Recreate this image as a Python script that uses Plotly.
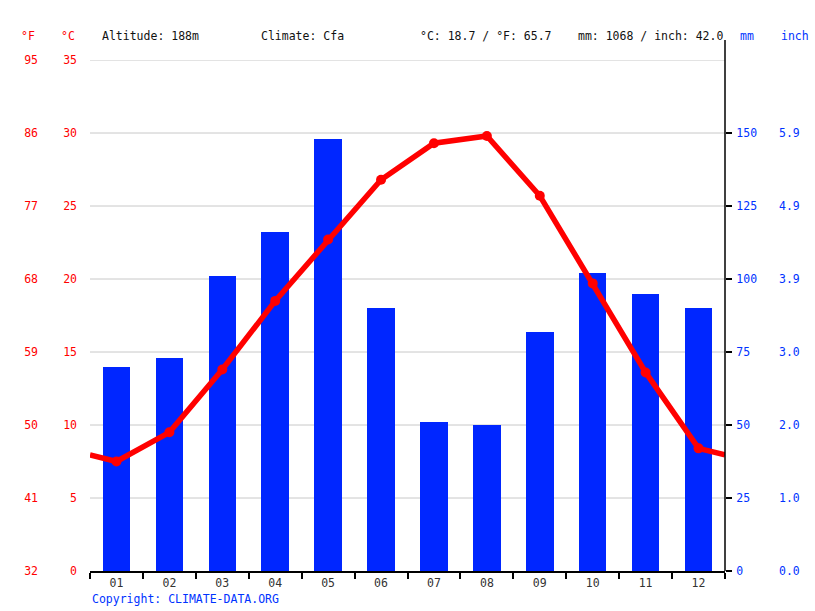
import plotly.graph_objects as go

months = ["01", "02", "03", "04", "05", "06", "07", "08", "09", "10", "11", "12"]
precip_mm = [70, 73, 101, 116, 148, 90, 51, 50, 82, 102, 95, 90]
temp_c = [7.5, 9.5, 13.8, 18.5, 22.7, 26.8, 29.3, 29.8, 25.7, 19.7, 13.6, 8.4]
c_ticks = [0, 5, 10, 15, 20, 25, 30, 35]
mm_ticks = [0, 25, 50, 75, 100, 125, 150]
mm_grid = [25, 50, 75, 100, 125, 150, 175]
header_texts = ["Altitude: 188m", "Climate: Cfa", "°C: 18.7 / °F: 65.7", "mm: 1068 / inch: 42.0"]

FONT = "DejaVu Sans Mono"
FS = 11.5
RED = "#ff0000"
BLUE = "#0033ff"
BAR = "#0026ff"

x = list(range(1, 13))
edge = (temp_c[0] + temp_c[-1]) / 2
line_x = [0.5] + x + [12.5]
line_y = [edge] + temp_c + [edge]

fig = go.Figure()
fig.add_trace(go.Bar(x=x, y=precip_mm, yaxis="y", marker=dict(color=BAR, line=dict(width=0)),
                     width=0.52, showlegend=False, hoverinfo="skip"))
fig.add_trace(go.Scatter(x=line_x, y=line_y, yaxis="y2", mode="lines", line=dict(color=RED, width=5.5),
                         showlegend=False, hoverinfo="skip"))
fig.add_trace(go.Scatter(x=x, y=temp_c, yaxis="y2", mode="markers", marker=dict(color=RED, size=10),
                         showlegend=False, hoverinfo="skip"))
# invisible traces to activate extra axes
fig.add_trace(go.Scatter(x=[1], y=[0], yaxis="y3", mode="markers", marker=dict(opacity=0), showlegend=False, hoverinfo="skip"))
fig.add_trace(go.Scatter(x=[1], y=[0], yaxis="y4", mode="markers", marker=dict(opacity=0), showlegend=False, hoverinfo="skip"))

fig.update_layout(
    width=815, height=611,
    margin=dict(l=90, r=90, t=60, b=40),
    paper_bgcolor="white", plot_bgcolor="white",
    font=dict(family=FONT, size=FS),
    bargap=0,
    xaxis=dict(range=[0.5, 12.5], tickvals=x, ticktext=months, ticks="", showgrid=False,
               zeroline=False, showline=True, linecolor="black", linewidth=1.5,
               tickfont=dict(color="#333333", size=FS, family=FONT),
               minor=dict(tickvals=[i + 0.5 for i in range(0, 13)], ticks="outside", ticklen=6,
                          tickcolor="black", tickwidth=1.5, showgrid=False),
               fixedrange=True),
    yaxis=dict(range=[0, 175], side="right", tickvals=mm_ticks,
               ticktext=[str(v) for v in mm_ticks], showgrid=False, zeroline=False,
               showline=False, ticks="outside", ticklen=6, tickcolor="black", tickwidth=1.5,
               ticklabelstandoff=2, tickfont=dict(color=BLUE, size=FS, family=FONT)),
    yaxis2=dict(range=[0, 35], overlaying="y", side="left", tickvals=c_ticks,
                ticktext=[str(v) for v in c_ticks],
                showgrid=False, zeroline=False, showline=False,
                ticks="", ticklabelstandoff=12, tickfont=dict(color=RED, size=FS, family=FONT)),
    yaxis3=dict(range=[0, 35], overlaying="y", side="left", anchor="free", position=0,
                tickvals=c_ticks, ticktext=[f"{c*1.8+32:.0f}" for c in c_ticks],
                showgrid=False, zeroline=False, showline=False, ticks="", ticklabelstandoff=52,
                tickfont=dict(color=RED, size=FS, family=FONT)),
    yaxis4=dict(range=[0, 175], overlaying="y", side="right", anchor="free", position=1,
                tickvals=mm_ticks, ticktext=[f"{v/25.4:.1f}" for v in mm_ticks],
                showgrid=False, zeroline=False, showline=False, ticks="", ticklabelstandoff=53,
                tickfont=dict(color=BLUE, size=FS, family=FONT)),
)

# gridlines under the bars (at every 5 °C = 25 mm)
for g in mm_grid:
    fig.add_shape(type="line", xref="paper", yref="y", x0=0, x1=1, y0=g, y1=g,
                  line=dict(color="#c8c8c8", width=1), layer="below")

# right axis line extending above the plot
fig.add_shape(type="line", xref="paper", yref="paper", x0=1, x1=1, y0=0, y1=1 + 20 / 511,
              line=dict(color="black", width=1.5))

anns = [
    ("°F", 37, 36, RED, "right"),
    ("°C", 77, 36, RED, "right"),
    ("mm", 738, 36, BLUE, "left"),
    ("inch", 779, 36, BLUE, "left"),
]
hx = [100, 259, 418, 576]
for t, px in zip(header_texts, hx):
    anns.append((t, px, 36, "#111111", "left"))
anns.append(("Copyright: CLIMATE-DATA.ORG", 90, 599, BLUE, "left"))

for text, px, py, col, align in anns:
    fig.add_annotation(text=text, xref="paper", yref="paper",
                       x=(px - 90) / 635, y=(571 - py) / 511,
                       xanchor=align, yanchor="middle", showarrow=False,
                       font=dict(color=col, size=FS, family=FONT))

fig.write_html("out.html")
